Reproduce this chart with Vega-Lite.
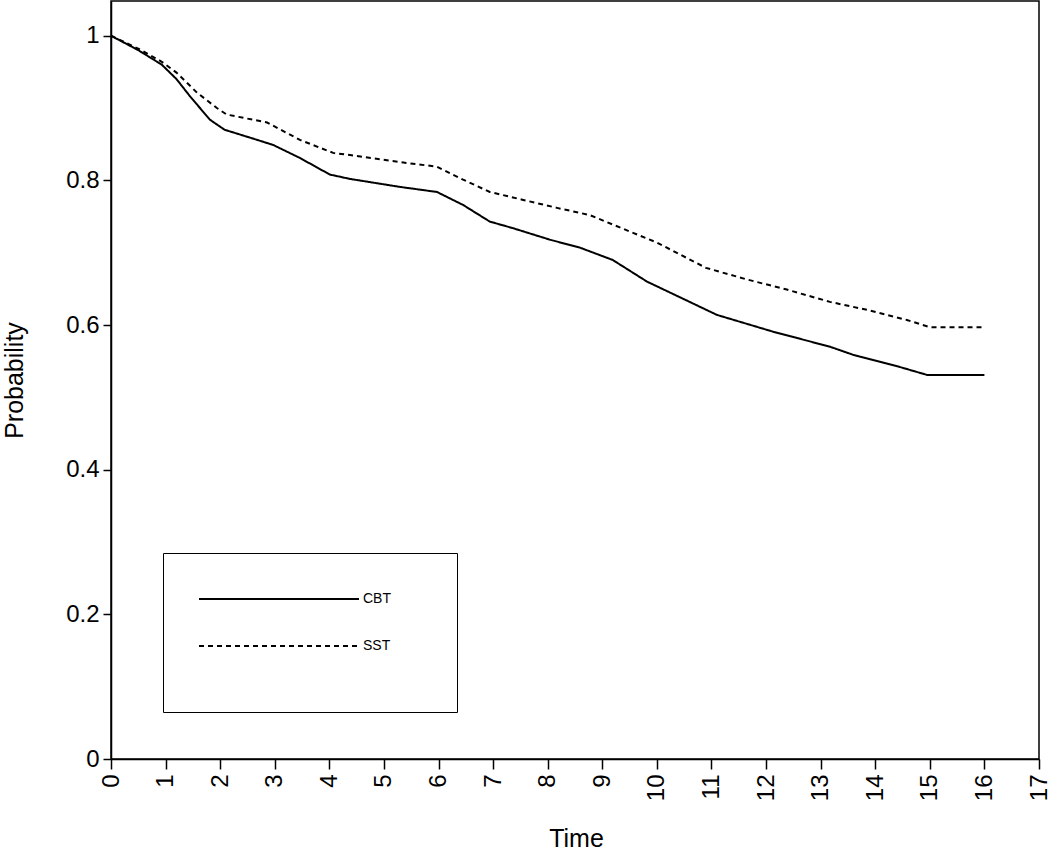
{
  "$schema": "https://vega.github.io/schema/vega-lite/v6.json",
  "width": 928,
  "height": 758,
  "autosize": {"type": "none"},
  "padding": {"left": 111, "top": 1, "right": 11, "bottom": 92},
  "background": "white",
  "config": {
    "view": {"stroke": "black", "strokeWidth": 1.5},
    "font": "Liberation Sans"
  },
  "data": {
    "values": [
      {"t": 0, "p": 1.0, "group": "CBT"},
      {"t": 0.5, "p": 0.98, "group": "CBT"},
      {"t": 0.93, "p": 0.96, "group": "CBT"},
      {"t": 1.2, "p": 0.94, "group": "CBT"},
      {"t": 1.45, "p": 0.916, "group": "CBT"},
      {"t": 1.81, "p": 0.884, "group": "CBT"},
      {"t": 2.08, "p": 0.87, "group": "CBT"},
      {"t": 2.55, "p": 0.859, "group": "CBT"},
      {"t": 2.97, "p": 0.849, "group": "CBT"},
      {"t": 3.46, "p": 0.831, "group": "CBT"},
      {"t": 4.01, "p": 0.808, "group": "CBT"},
      {"t": 4.38, "p": 0.802, "group": "CBT"},
      {"t": 5.29, "p": 0.791, "group": "CBT"},
      {"t": 5.97, "p": 0.784, "group": "CBT"},
      {"t": 6.45, "p": 0.766, "group": "CBT"},
      {"t": 6.94, "p": 0.743, "group": "CBT"},
      {"t": 7.36, "p": 0.734, "group": "CBT"},
      {"t": 8.04, "p": 0.718, "group": "CBT"},
      {"t": 8.59, "p": 0.707, "group": "CBT"},
      {"t": 9.19, "p": 0.69, "group": "CBT"},
      {"t": 9.82, "p": 0.66, "group": "CBT"},
      {"t": 10.6, "p": 0.632, "group": "CBT"},
      {"t": 11.1, "p": 0.614, "group": "CBT"},
      {"t": 12.12, "p": 0.591, "group": "CBT"},
      {"t": 12.62, "p": 0.581, "group": "CBT"},
      {"t": 13.17, "p": 0.57, "group": "CBT"},
      {"t": 13.59, "p": 0.559, "group": "CBT"},
      {"t": 14.45, "p": 0.542, "group": "CBT"},
      {"t": 14.95, "p": 0.531, "group": "CBT"},
      {"t": 16.0, "p": 0.531, "group": "CBT"},
      {"t": 0, "p": 1.0, "group": "SST"},
      {"t": 0.53, "p": 0.981, "group": "SST"},
      {"t": 0.93, "p": 0.964, "group": "SST"},
      {"t": 1.2, "p": 0.949, "group": "SST"},
      {"t": 1.58, "p": 0.921, "group": "SST"},
      {"t": 1.94, "p": 0.9, "group": "SST"},
      {"t": 2.12, "p": 0.891, "group": "SST"},
      {"t": 2.86, "p": 0.88, "group": "SST"},
      {"t": 3.46, "p": 0.856, "group": "SST"},
      {"t": 4.07, "p": 0.838, "group": "SST"},
      {"t": 4.38, "p": 0.835, "group": "SST"},
      {"t": 5.42, "p": 0.824, "group": "SST"},
      {"t": 5.97, "p": 0.819, "group": "SST"},
      {"t": 6.45, "p": 0.801, "group": "SST"},
      {"t": 6.94, "p": 0.784, "group": "SST"},
      {"t": 7.55, "p": 0.773, "group": "SST"},
      {"t": 8.17, "p": 0.762, "group": "SST"},
      {"t": 8.77, "p": 0.752, "group": "SST"},
      {"t": 9.19, "p": 0.739, "group": "SST"},
      {"t": 10.0, "p": 0.714, "group": "SST"},
      {"t": 10.9, "p": 0.679, "group": "SST"},
      {"t": 11.65, "p": 0.663, "group": "SST"},
      {"t": 12.38, "p": 0.649, "group": "SST"},
      {"t": 13.17, "p": 0.632, "group": "SST"},
      {"t": 13.85, "p": 0.621, "group": "SST"},
      {"t": 14.58, "p": 0.607, "group": "SST"},
      {"t": 15.0, "p": 0.597, "group": "SST"},
      {"t": 16.0, "p": 0.597, "group": "SST"}
    ]
  },
  "mark": {"type": "line", "color": "black", "strokeWidth": 2, "clip": true},
  "encoding": {
    "x": {
      "field": "t",
      "type": "quantitative",
      "scale": {"domain": [0, 17], "nice": false, "zero": false},
      "axis": {
        "title": "Time",
        "values": [0,1,2,3,4,5,6,7,8,9,10,11,12,13,14,15,16,17],
        "grid": false,
        "domainColor": "black",
        "domainWidth": 1.5,
        "tickColor": "black",
        "tickWidth": 1.5,
        "tickSize": 10,
        "labelAngle": -90,
        "labelAlign": "right",
        "labelBaseline": "middle",
        "labelPadding": 5,
        "labelFontSize": 24,
        "labelColor": "black",
        "labelFont": "Liberation Sans",
        "labelOverlap": false,
        "labelFlush": false,
        "titleFont": "Liberation Sans",
        "titleFontSize": 25,
        "titleFontWeight": "normal",
        "titleColor": "black",
        "titleX": 465,
        "titleY": 79,
        "titleBaseline": "middle"
      }
    },
    "y": {
      "field": "p",
      "type": "quantitative",
      "scale": {"domain": [0, 1.048], "nice": false},
      "axis": {
        "title": "Probability",
        "values": [0, 0.2, 0.4, 0.6, 0.8, 1],
        "format": "~g",
        "grid": false,
        "domainColor": "black",
        "domainWidth": 1.5,
        "tickColor": "black",
        "tickWidth": 1.5,
        "tickSize": 8,
        "labelPadding": 4,
        "labelFontSize": 24,
        "labelColor": "black",
        "labelFont": "Liberation Sans",
        "labelFlush": false,
        "labelOverlap": false,
        "titleFont": "Liberation Sans",
        "titleFontSize": 25,
        "titleFontWeight": "normal",
        "titleColor": "black",
        "titleX": -97,
        "titleY": 379,
        "titleBaseline": "middle",
        "titleAngle": 270
      }
    },
    "strokeDash": {
      "field": "group",
      "type": "nominal",
      "scale": {"domain": ["CBT", "SST"], "range": [[1, 0], [5, 4]]},
      "legend": {
        "orient": "none",
        "legendX": 52,
        "legendY": 552,
        "title": " ",
        "titleOrient": "bottom",
        "titleFontSize": 14,
        "titlePadding": 10,
        "strokeColor": "black",
        "fillColor": "white",
        "padding": 35,
        "symbolType": "M-1,0H15M20.9,0",
        "symbolSize": 400,
        "symbolStrokeWidth": 2,
        "symbolStrokeColor": "black",
        "symbolFillColor": "transparent",
        "labelFontSize": 14,
        "labelFont": "Liberation Sans",
        "labelColor": "black",
        "labelOffset": 143,
        "rowPadding": 29
      }
    }
  }
}
